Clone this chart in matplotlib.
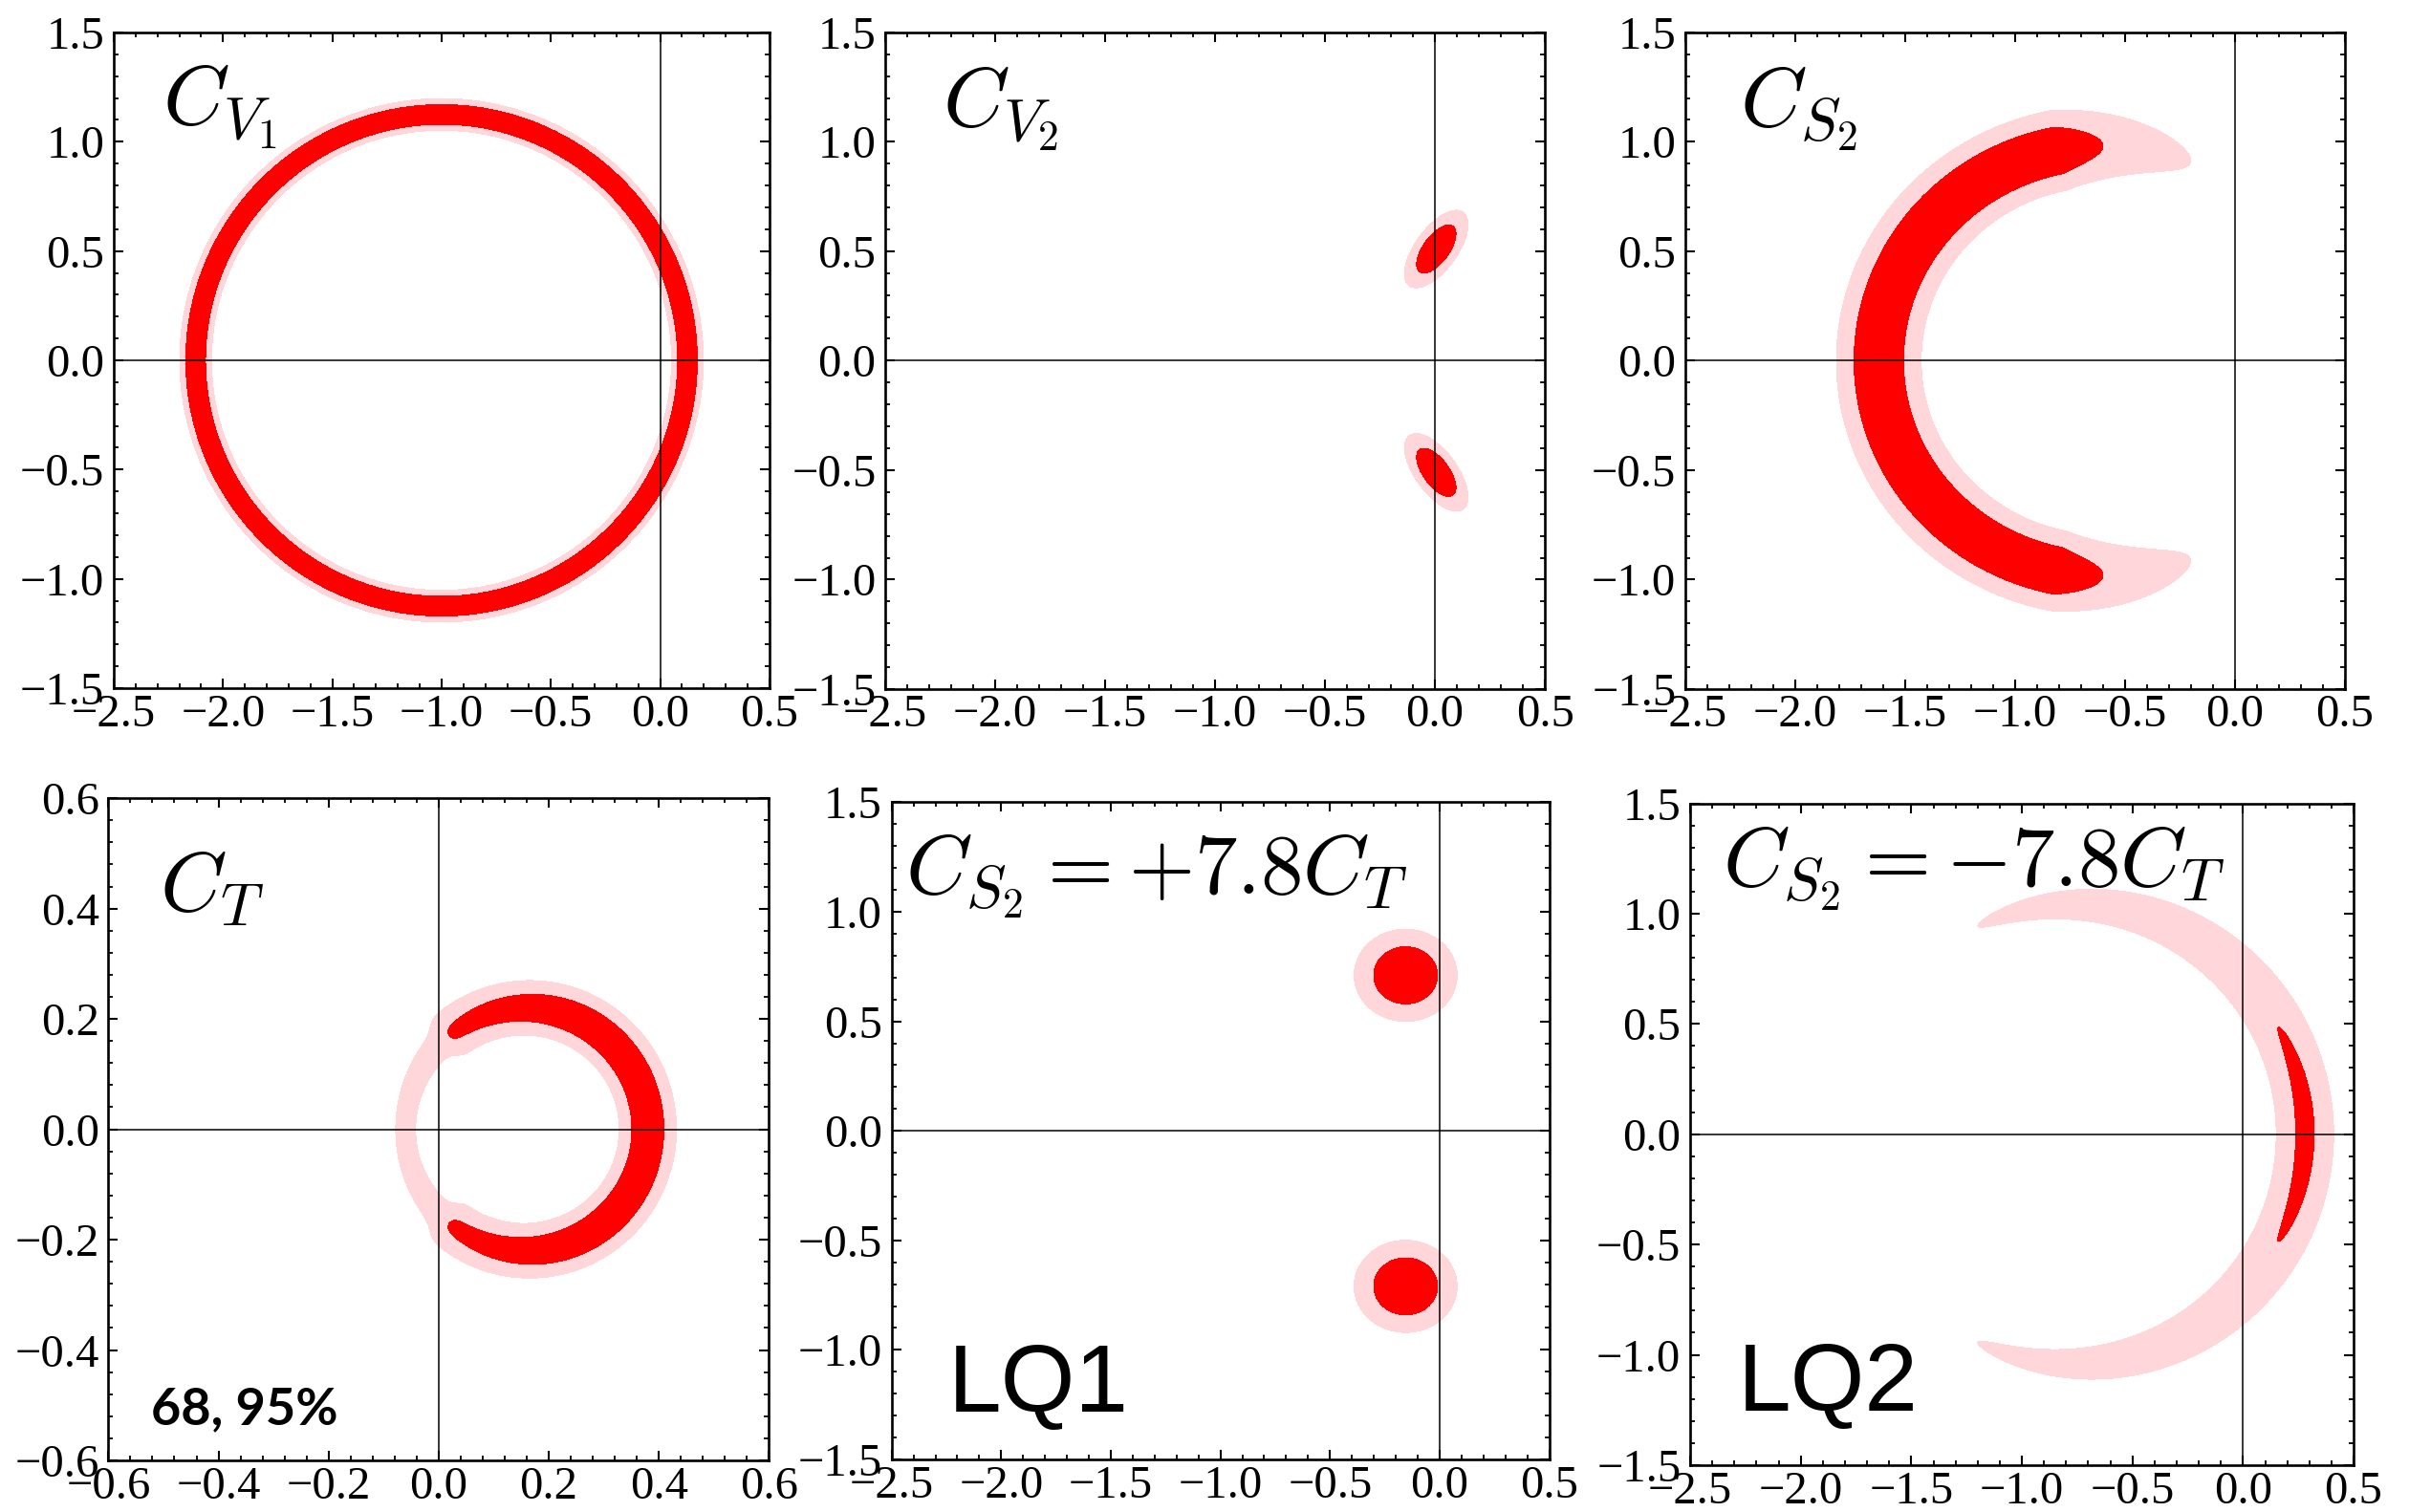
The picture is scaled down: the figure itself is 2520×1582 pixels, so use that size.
import numpy as np
import matplotlib
matplotlib.use("Agg")
import matplotlib.pyplot as plt
import matplotlib.ticker as mticker

plt.rcParams["mathtext.fontset"] = "cm"
plt.rcParams["font.family"] = ["Liberation Serif", "DejaVu Serif"]

# ---------------------------------------------------------------------------
# Fit regions in the complex plane (Re C, Im C); 68% and 95% CL for 2 dof
# ---------------------------------------------------------------------------

CL_LEVELS = [2.30, 5.99]
RED = "#ff0000"
PINK = "#ffd6d9"

# ring-shaped chi2 valleys: centre, semi-axes, band width and angular penalty
#   pen(t) = p0 + k1 * max(t - t1, 0)**n1 + k2 * sigmoid((t - t2) / s2)
RING_PANELS = ["CV1", "CS2", "CT", "LQ2"]
RING_CX = [-1.0, -0.60, 0.16, -0.76]
RING_A = [1.125, 1.02, 0.22, 1.04]
RING_B = [1.125, 0.98, 0.22, 1.04]
RING_W = [0.0264, 0.080, 0.102, 0.0615]
RING_OPEN = ["none", "right", "left", "left"]
PEN_P0 = [0.0, 0.40, 0.62, 1.87]
PEN_K1 = [0.0, 19.0, 2.0, 5.6]
PEN_T1 = [0.0, 0.40, 0.0, 0.0]
PEN_N1 = [1.0, 1.0, 2.0, 0.9]
PEN_K2 = [0.0, 0.0, 2.72, 0.0]
PEN_T2 = [0.5, 0.5, 0.842, 0.5]
PEN_S2 = [0.1, 0.1, 0.012, 0.1]

# two-fold degenerate minima (gaussian blobs)
CV2_BLOB_X = [0.006, 0.006]
CV2_BLOB_Y = [0.51, -0.51]
CV2_SIGMA = [0.085, 0.039]
CV2_TILT = [54.0, -54.0]

LQ1_BLOB_X = [-0.155, -0.155]
LQ1_BLOB_Y = [0.71, -0.71]
LQ1_SIGMA = [0.096, 0.086]
LQ1_TILT = [0.0, 0.0]

PANEL_ORDER = ["CV1", "CV2", "CS2", "CT", "LQ1", "LQ2"]
PANEL_TITLES = [r"$C_{V_1}$", r"$C_{V_2}$", r"$C_{S_2}$", r"$C_T$",
                r"$C_{S_2}=+7.8C_T$", r"$C_{S_2}=-7.8C_T$"]
X_LIMITS = [(-2.5, 0.5)] * 3 + [(-0.6, 0.6), (-2.5, 0.5), (-2.5, 0.5)]
Y_LIMITS = [(-1.5, 1.5)] * 3 + [(-0.6, 0.6), (-1.5, 1.5), (-1.5, 1.5)]
MAJOR_STEP = [0.5, 0.5, 0.5, 0.2, 0.5, 0.5]

# axes boxes [left, bottom, width, height] in figure fraction
AXES_BOX = [
    [0.0472, 0.5449, 0.2722, 0.4336],
    [0.3675, 0.5443, 0.2738, 0.4343],
    [0.6996, 0.5443, 0.2738, 0.4343],
    [0.0450, 0.0341, 0.2742, 0.4380],
    [0.3701, 0.0348, 0.2730, 0.4346],
    [0.7016, 0.0310, 0.2754, 0.4377],
]
TITLE_POS = [(0.074, 0.860), (0.087, 0.857), (0.083, 0.857),
             (0.077, 0.829), (0.021, 0.861), (0.049, 0.874)]


def ring_chi2(X, Y, i):
    u = (X - RING_CX[i]) / RING_A[i]
    v = Y / RING_B[i]
    rho = np.hypot(u, v)
    cos_t = u / np.maximum(rho, 1e-9)
    if RING_OPEN[i] == "left":
        t = (1.0 - cos_t) / 2.0
    elif RING_OPEN[i] == "right":
        t = (1.0 + cos_t) / 2.0
    else:
        t = np.zeros_like(cos_t)
    hinge = np.clip(t - PEN_T1[i], 0.0, None)
    step = 1.0 / (1.0 + np.exp(-(t - PEN_T2[i]) / PEN_S2[i]))
    pen = PEN_P0[i] + PEN_K1[i] * hinge ** PEN_N1[i] + PEN_K2[i] * step
    return ((rho - 1.0) / RING_W[i]) ** 2 + pen


def blobs_chi2(X, Y, xs, ys, sigma, tilts):
    out = np.full(X.shape, np.inf)
    for cx, cy, tilt in zip(xs, ys, tilts):
        th = np.deg2rad(tilt)
        dx, dy = X - cx, Y - cy
        u = dx * np.cos(th) + dy * np.sin(th)
        v = -dx * np.sin(th) + dy * np.cos(th)
        out = np.minimum(out, (u / sigma[0]) ** 2 + (v / sigma[1]) ** 2)
    return out


def panel_chi2(name, X, Y):
    if name in RING_PANELS:
        return ring_chi2(X, Y, RING_PANELS.index(name))
    if name == "CV2":
        return blobs_chi2(X, Y, CV2_BLOB_X, CV2_BLOB_Y, CV2_SIGMA, CV2_TILT)
    return blobs_chi2(X, Y, LQ1_BLOB_X, LQ1_BLOB_Y, LQ1_SIGMA, LQ1_TILT)


def tick_fmt(v, _pos):
    return f"{v:.1f}".replace("-", "\u2212")


def style_axes(ax, step):
    for s in ax.spines.values():
        s.set_linewidth(1.9)
    ax.xaxis.set_major_locator(mticker.MultipleLocator(step))
    ax.yaxis.set_major_locator(mticker.MultipleLocator(step))
    ax.xaxis.set_minor_locator(mticker.AutoMinorLocator(5))
    ax.yaxis.set_minor_locator(mticker.AutoMinorLocator(5))
    ax.xaxis.set_major_formatter(mticker.FuncFormatter(tick_fmt))
    ax.yaxis.set_major_formatter(mticker.FuncFormatter(tick_fmt))
    ax.tick_params(which="both", direction="in", top=True, right=True)
    ax.tick_params(which="major", length=7, width=1.5, labelsize=35)
    ax.tick_params(which="minor", length=3.8, width=1.3)
    ax.tick_params(axis="x", which="major", pad=4)
    ax.tick_params(axis="y", which="major", pad=7)


fig = plt.figure(figsize=(25.2, 15.82), dpi=100)

for k, name in enumerate(PANEL_ORDER):
    ax = fig.add_axes(AXES_BOX[k])
    x0, x1 = X_LIMITS[k]
    y0, y1 = Y_LIMITS[k]
    xs = np.linspace(x0, x1, 1200)
    ys = np.linspace(y0, y1, 1200)
    X, Y = np.meshgrid(xs, ys)
    Z = panel_chi2(name, X, Y)

    ax.contourf(X, Y, Z, levels=[-1.0, CL_LEVELS[1]], colors=[PINK], zorder=1)
    ax.contourf(X, Y, Z, levels=[-1.0, CL_LEVELS[0]], colors=[RED], zorder=2)
    ax.axhline(0.0, color="black", lw=1.1, zorder=3)
    ax.axvline(0.0, color="black", lw=1.1, zorder=3)

    ax.set_xlim(x0, x1)
    ax.set_ylim(y0, y1)
    style_axes(ax, MAJOR_STEP[k])

    tx, ty = TITLE_POS[k]
    ax.text(tx, ty, PANEL_TITLES[k], transform=ax.transAxes, fontsize=64,
            ha="left", va="baseline", zorder=4)

    if name == "CT":
        ax.text(0.064, 0.054, "68, 95%", transform=ax.transAxes, fontsize=39,
                family="Lato", weight="bold", ha="left", va="baseline")
    elif name == "LQ1":
        ax.text(0.086, 0.072, "LQ1", transform=ax.transAxes, fontsize=72,
                family="Liberation Sans", ha="left", va="baseline")
    elif name == "LQ2":
        ax.text(0.072, 0.082, "LQ2", transform=ax.transAxes, fontsize=72,
                family="Liberation Sans", ha="left", va="baseline")

fig.savefig("out.png", dpi=100)
plt.close(fig)
